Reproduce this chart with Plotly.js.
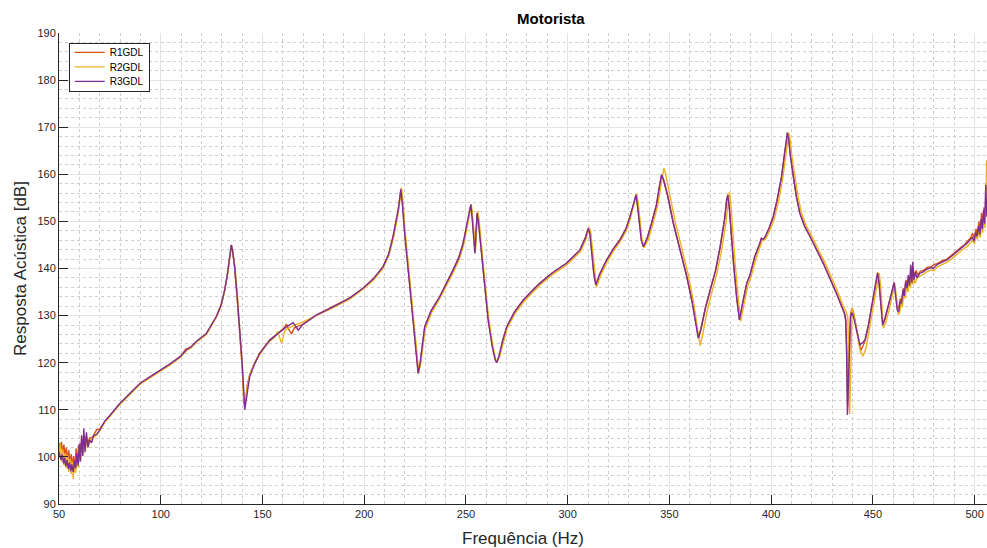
<!DOCTYPE html>
<html>
<head>
<meta charset="utf-8">
<script src="https://cdn.plot.ly/plotly-3.0.1.min.js"></script>
<style>html,body{margin:0;padding:0;background:#fff;}#chart{width:987px;height:548px;}</style>
</head>
<body>
<div id="chart"></div>
<script>
// Series names
const seriesNames = ['R1GDL', 'R2GDL', 'R3GDL'];

// [frequency (Hz), response (dB)]
const R1GDL = [
[50,103.0],[50.6,101.5],[51.2,103.2],[51.8,100.8],[52.4,102.6],[53,100.2],[53.6,102.0],[54.2,99.2],[54.8,101.4],[55.4,98.6],[56,100.6],[56.6,98.0],[57.2,100.2],[57.8,97.4],[58.4,101.8],[59,98.8],[59.6,102.4],[60.2,99.6],[60.8,103.0],[61.4,101.0],[62,104.2],[62.6,101.8],[63.3,104.5],[64,102.6],[65,104.0],[66.5,104.2],[68.5,105.8],[70,105.9],[72.5,107.5],[75,108.7],[80,111.3],[86.5,114.1],[90,115.6],[95,117.0],
[99.8,118.3],[104.8,119.7],[109.8,121.3],[112.3,122.9],[114.7,123.2],[117.7,124.5],[122.4,126.1],[127.3,129.7],[129.7,132.2],[131.4,135.3],[132.7,138.5],[133.5,141.0],[134.2,143.5],[134.7,144.9],[135.3,143.7],[136.3,140.3],[137.5,134.0],[138.8,126.8],[140.1,118.5],[140.9,111.2],[141.7,112.0],[142.5,115.2],[143.7,117.4],[146.2,120.0],[148.7,122.1],[153.6,124.8],[158.5,126.6],[160.2,127.2],[161.8,128.2],[163,127.0],[164.3,126.1],[165.7,127.4],[167.7,127.8],[169.6,128.1],
[176.4,130.1],[182.5,131.4],[187.9,132.6],[192.8,133.7],[199.4,135.8],[204.5,137.8],[209.3,140.4],[212,143.0],[214.2,146.8],[215.7,150.0],[216.7,152.4],[217.5,155.0],[218.1,156.9],[218.8,154.0],[220.1,146.8],[222.1,138.0],[224.2,129.1],[225.6,122.0],[226.6,117.8],[227.6,120.0],
[229.8,127.6],[232.9,131.0],[237.1,134.0],[243.7,139.7],[246.4,142.2],[248.6,145.3],[250.1,148.5],[251.1,151.0],[251.9,153.0],[252.5,153.5],[253.2,150.5],[253.9,146.2],[254.5,143.6],[255.1,148.5],[255.6,152.0],[256.2,150.2],[256.9,146.8],[259,137.5],[261,129.1],[263,123.5],[264.5,120.6],[265.2,120.1],[266.3,121.3],[268,124.5],[270.1,127.6],[273.9,130.8],[278.2,133.3],[282.4,135.2],[286.4,136.9],
[292.2,139.0],[299.4,141.1],[302.7,142.5],[306,143.9],[308.7,146.5],[310.2,148.6],[311,147.5],[311.8,143.9],[312.9,139.0],[313.9,136.6],[315.8,138.8],[319.2,141.8],[322.2,144.0],[325.7,146.1],[328.7,148.5],[330.7,151.0],[332.5,154.0],[333.7,155.7],[334.5,153.0],[335.3,149.6],[336.3,146.0],[337.3,144.6],
[339.2,146.5],[341.3,149.6],[343.7,153.5],[345.2,157.5],[346.2,159.9],[347.2,158.8],[349.2,155.5],[352,149.6],[355.2,144.0],[358.6,138.3],[361.2,133.0],[363.2,127.5],[364.3,125.3],[365.5,127.0],[367.7,131.5],[370.1,135.4],[372.7,139.5],[375,144.6],[377.2,150.5],[378.2,154.5],[378.8,155.7],[379.5,153.0],[380.4,147.5],[381.6,141.0],[383.2,133.5],[384.5,129.2],[386,132.5],[388.1,136.9],
[389.6,138.5],[392,142.5],[394.5,145.3],[395.3,146.4],[396.2,146.2],[397,146.6],[399,148.5],[401.1,151.0],[403,154.5],[405.2,159.5],[406.7,164.5],[407.6,168.0],[408.1,168.9],[408.7,167.5],[409.5,164.0],[411,159.5],[412.5,155.2],[414.2,151.7],[416.5,149.0],[419.2,146.8],[425.7,141.1],
[432.2,134.7],[434.9,131.8],[436.1,130.5],[436.7,129.2],[437.2,123.0],[437.6,110.5],[438,116.0],[438.5,126.5],[439.1,130.5],[439.9,131.6],[440.7,130.2],[442.1,127.0],[443.3,123.8],[444.1,122.6],[445.2,123.6],[446.4,125.0],[447.9,128.0],[449.5,131.9],[451.1,136.0],[452.4,139.1],[453.1,137.0],[453.6,134.7],[454.2,130.5],[454.9,128.0],[456.1,129.5],[457.7,131.9],[459.4,135.0],[460.5,137.0],[461.3,134.5],[462.1,131.5],[462.8,131.8],[463.5,133.6],[464.2,133.0],[464.9,135.8],[465.6,134.8],[466.3,137.6],[467,136.0],[467.6,138.0],[468.2,137.0],[468.8,139.4],[469.4,137.6],[470,139.6],
[470.5,138.2],[471.3,139.6],[472.1,138.6],[473.3,139.4],[474.9,139.6],[476.9,140.3],[478.9,140.4],[479.9,140.8],[481.9,141.1],[483.9,141.6],[486.4,142.0],[488.9,142.8],[491.4,143.8],[493,144.4],[494.9,145.0],[496.4,145.8],[497.9,146.4],[499.1,147.5],[499.9,146.2],[500.7,148.4],[501.4,147.0],[502.1,150.0],[502.8,147.8],[503.4,151.8],[504,149.0],[504.6,153.0],[505.1,150.0],[505.7,155.0],[506,152.0]
];

const R2GDL = [
[50,100.6],[50.6,102.8],[51.2,99.0],[51.8,101.6],[52.4,98.2],[53,100.8],[53.6,97.6],[54.2,100.4],[54.8,96.8],[55.4,99.6],[56,96.4],[56.6,99.0],[57,95.3],[57.6,98.4],[58.2,96.6],[58.8,100.2],[59.4,97.8],[60,101.6],[60.6,99.2],[61.2,103.2],[61.8,100.6],[62.4,104.4],[63,101.6],[63.7,104.0],[64.5,102.2],[65.5,103.6],[67,104.2],[68.5,104.6],[70,105.5],[72.5,107.4],[75,108.6],[80,111.2],[86.5,114.0],[90,115.5],[95,116.9],
[99.8,118.2],[104.8,119.6],[109.8,121.2],[112.7,122.6],[114.7,123.1],[117.7,124.4],[122.4,126.0],[127.3,129.6],[129.7,132.1],[131.4,135.2],[132.7,138.4],[133.5,140.9],[134.3,143.6],[134.8,144.9],[135.4,143.8],[136.4,140.6],[137.6,134.6],[138.9,127.6],[140,120.0],[140.9,111.6],[142,113.2],[143.3,116.6],[144.7,118.6],[147.2,120.8],[149.7,122.4],[152.7,124.2],[154.9,125.0],[156.2,125.6],[157.5,126.6],[159.4,124.1],[161,126.9],[162.7,127.3],[165.7,128.0],[169.6,128.6],
[176.4,129.9],[182.5,131.2],[187.9,132.4],[192.8,133.5],[199.4,135.6],[204.5,137.5],[209.3,140.1],[212.2,142.8],[214.4,146.5],[215.9,149.8],[216.9,152.2],[217.7,155.0],[218.3,157.2],[219,154.4],[220.3,147.0],[222.3,138.2],[224.4,129.3],[225.8,122.2],[226.8,118.0],[227.8,119.8],
[230,127.2],[233.2,130.7],[237.4,133.8],[244,139.4],[246.7,141.9],[248.9,145.0],[250.4,148.2],[251.4,150.8],[252.2,152.8],[252.7,153.5],[253.4,150.6],[254.1,146.4],[254.7,144.0],[255.3,148.4],[255.8,152.2],[256.4,150.6],[257.1,147.2],[259.2,137.8],[261.2,129.4],[263.2,123.6],[264.7,120.6],[265.4,120.2],[266.5,121.2],[268.2,124.2],[270.3,127.3],[274.2,130.5],[278.5,133.0],[282.7,134.9],[286.7,136.6],
[292.5,138.7],[299.7,140.8],[303,142.2],[306.3,143.6],[309,146.2],[310.5,148.7],[311.3,147.8],[312.1,144.2],[313.2,139.2],[314.2,136.0],[316.1,138.4],[319.4,141.4],[322.5,143.7],[326,145.8],[329,148.2],[331,150.8],[332.8,154.2],[334,155.9],[334.8,153.4],[335.6,149.6],[336.6,145.8],[337.6,144.4],
[339.5,146.0],[341.6,149.0],[344.1,153.0],[345.7,157.2],[346.7,160.2],[347.3,161.3],[348.1,160.2],[350,156.0],[352.7,150.2],[355.9,144.6],[359.3,138.6],[361.9,132.8],[363.9,127.0],[365.1,123.6],[366.3,125.8],[368.4,130.6],[370.8,134.8],[373.4,139.0],[375.7,144.0],[377.9,150.0],[378.9,154.2],[379.5,156.3],[380.2,153.6],[381.1,148.0],[382.3,141.2],[383.9,133.4],[385,128.8],[386.5,132.0],[388.6,136.4],
[390.1,138.2],[392.5,142.0],[394.9,145.0],[395.8,146.2],[396.7,146.0],[397.5,146.4],[399.5,148.2],[401.6,150.6],[403.5,154.0],[405.7,159.0],[407.2,164.0],[408.1,167.6],[408.7,168.8],[409.3,167.6],[410.1,164.2],[411.6,159.8],[413.1,155.6],[414.8,152.0],[417.1,149.2],[419.8,147.0],[426.3,141.4],
[432.8,135.0],[435.3,132.2],[436.8,131.0],[437.7,129.6],[438.1,122.0],[438.6,109.1],[439,116.0],[439.4,126.0],[439.8,131.5],[440.6,130.4],[442.2,126.2],[443.8,122.4],[445.2,121.4],[446.6,123.0],[448.4,127.4],[450,131.6],[451.6,135.6],[453.1,139.0],[453.8,136.6],[454.4,132.0],[455.1,127.3],[456.4,128.6],[458,131.2],[459.7,134.6],[460.8,136.8],[461.6,133.8],[462.4,130.2],[463.1,130.6],[463.8,132.6],[464.5,131.8],[465.2,134.8],[465.9,133.6],[466.6,136.4],[467.3,135.0],[467.9,137.4],[468.5,136.0],[469.1,138.6],[469.6,136.6],
[470.1,137.8],[470.8,136.8],[471.7,138.2],[473.3,138.4],[474.9,138.9],[476.9,139.4],[478.9,139.7],[479.9,139.5],[481.9,140.4],[483.9,140.8],[486.4,141.3],[488.9,142.1],[491.4,143.1],[493,143.6],[494.9,144.3],[496.4,144.7],[497.9,145.5],[499.1,146.0],[499.9,145.2],[500.7,147.0],[501.4,146.2],[502.1,148.2],[502.8,146.6],[503.4,149.6],[504,147.6],[504.6,151.0],[505.1,148.6],[505.6,153.0],[505.9,163.0],[506.1,160.0]
];

const R3GDL = [
[50,101.0],[50.5,100.2],[51,99.4],[51.6,100.5],[52.2,98.6],[52.8,99.8],[53.3,98.0],[54,99.3],[54.6,97.4],[55.2,98.8],[55.8,97.0],[56.3,98.4],[57,96.8],[57.6,99.2],[58.2,97.6],[58.8,100.6],[59.4,98.2],[60,102.8],[60.5,99.0],[61.1,104.6],[61.7,100.2],[62.2,106.0],[62.8,101.0],[63.5,105.2],[64.2,102.0],[65,103.6],[66,103.0],[67,104.5],[68.5,104.8],[70,105.7],[72.5,107.6],[75,108.8],[80,111.4],[86.5,114.2],[90,115.7],[95,117.1],
[99.8,118.4],[104.8,119.8],[109.8,121.4],[112.7,122.8],[114.7,123.3],[117.7,124.6],[122.4,126.2],[127.3,129.8],[129.7,132.3],[131.4,135.4],[132.7,138.6],[133.5,141.1],[134.2,143.6],[134.7,145.0],[135.3,143.8],[136.3,140.5],[137.5,134.5],[138.8,127.5],[140.1,119.5],[141.3,110.0],[142.3,112.8],[143.7,117.0],[146.2,119.8],[148.7,122.0],[153.6,124.8],[158.5,126.6],[161.7,127.6],[165.1,128.5],[166.2,127.8],[167.6,126.9],[169.6,128.0],
[176.4,130.1],[182.5,131.4],[187.9,132.6],[192.8,133.7],[199.4,135.8],[204.5,137.8],[209.3,140.4],[212,143.0],[214.2,146.8],[215.7,150.0],[216.7,152.4],[217.5,155.0],[218,156.8],[218.7,154.0],[220,146.8],[222,138.0],[224.1,129.1],[225.5,122.0],[226.5,117.7],[227.5,120.0],
[229.7,127.6],[232.9,131.0],[237.1,134.0],[243.7,139.7],[246.4,142.2],[248.6,145.3],[250.1,148.5],[251.1,151.0],[251.9,153.0],[252.4,153.6],[253.1,150.5],[253.8,146.0],[254.4,143.2],[255,148.0],[255.5,151.7],[256.1,150.0],[256.8,146.8],[258.9,137.5],[260.9,129.1],[262.9,123.5],[264.4,120.6],[265.1,120.0],[266.2,121.3],[267.9,124.5],[270,127.6],[273.9,130.8],[278.2,133.3],[282.4,135.2],[286.4,136.9],
[292.2,139.0],[299.4,141.1],[302.7,142.5],[306,143.9],[308.7,146.5],[310.1,148.5],[310.9,147.5],[311.7,143.9],[312.8,139.0],[313.8,136.5],[315.7,138.8],[319.1,141.8],[322.2,144.0],[325.7,146.1],[328.7,148.5],[330.6,151.0],[332.4,154.0],[333.6,155.6],[334.4,153.0],[335.2,149.6],[336.2,146.0],[337.2,144.6],
[339.1,146.5],[341.2,149.6],[343.6,153.5],[345.1,157.5],[346.1,159.9],[347.1,158.8],[349.1,155.5],[351.9,149.6],[355.1,144.0],[358.5,138.3],[361.1,133.0],[363.1,127.5],[364.2,125.2],[365.4,127.0],[367.6,131.5],[370,135.4],[372.6,139.5],[374.9,144.6],[377.1,150.5],[378.1,154.5],[378.7,155.6],[379.4,153.0],[380.3,147.5],[381.5,141.0],[383.1,133.5],[384.4,129.1],[385.9,132.5],[388,136.9],
[389.5,138.5],[391.9,142.5],[394.4,145.3],[395.2,146.4],[396.1,146.2],[396.9,146.6],[398.9,148.5],[401,151.0],[402.9,154.5],[405.1,159.5],[406.6,164.5],[407.5,168.0],[408,168.8],[408.6,167.5],[409.4,164.0],[410.9,159.5],[412.4,155.2],[414.1,151.7],[416.4,149.0],[419.1,146.8],[425.6,141.1],
[432.1,134.7],[434.8,131.8],[436,130.5],[436.6,129.1],[437.1,122.0],[437.5,108.9],[437.9,115.0],[438.4,126.0],[439,129.8],[439.8,130.6],[440.6,129.5],[442,126.9],[443.6,123.8],[444.8,124.2],[446.1,124.8],[447.8,128.0],[449.4,131.9],[451,136.0],[452.3,139.1],[453,137.0],[453.5,134.7],[454.1,130.5],[454.8,128.0],[456,129.5],[457.6,131.9],[459.3,135.0],[460.4,137.0],[461.2,134.5],[462,131.2],[462.7,130.8],[463.4,133.0],[464.1,132.6],[464.8,135.4],[465.4,134.2],[466.1,137.2],[466.8,135.8],[467.4,138.6],[468,136.4],[468.6,140.8],[469.2,137.0],
[469.6,141.4],[470.2,137.6],[470.9,139.2],[471.7,138.0],[473.1,139.0],[474.7,139.3],[476.7,139.9],[478.7,140.2],[479.7,140.0],[481.7,140.9],[483.7,141.3],[486.2,141.8],[488.7,142.6],[491.2,143.6],[492.8,144.1],[494.7,144.8],[496.2,145.3],[497.7,146.0],[498.9,146.6],[499.7,145.8],[500.5,147.6],[501.2,146.8],[501.9,149.0],[502.6,147.2],[503.2,150.5],[503.8,148.4],[504.4,152.4],[504.9,149.5],[505.5,157.8],[506,151.0]
];

const xTicks = [50, 100, 150, 200, 250, 300, 350, 400, 450, 500];
const yTicks = [90, 100, 110, 120, 130, 140, 150, 160, 170, 180, 190];

const seriesData = [R1GDL, R2GDL, R3GDL];
const colors = ['#D95319', '#EDB120', '#7E2F8E'];

const traces = seriesData.map(function (s, i) {
  return {
    type: 'scatter',
    mode: 'lines',
    name: seriesNames[i],
    x: s.map(function (p) { return p[0]; }),
    y: s.map(function (p) { return p[1]; }),
    line: { color: colors[i], width: 1.4 },
    hoverinfo: 'skip'
  };
});

const FONT = 'Liberation Sans, Arial, sans-serif';

const axisCommon = {
  showline: true,
  linecolor: '#262626',
  linewidth: 1,
  ticks: 'inside',
  ticklen: 9,
  tickwidth: 1,
  tickcolor: '#262626',
  showgrid: true,
  gridcolor: '#e3e3e3',
  gridwidth: 1,
  zeroline: false,
  tickfont: { family: FONT, size: 11, color: '#262626' },
  mirror: false
};

const layout = {
  width: 987,
  height: 548,
  margin: { l: 59, r: 0, t: 33, b: 44, pad: 0 },
  paper_bgcolor: '#ffffff',
  plot_bgcolor: '#ffffff',
  font: { family: FONT, color: '#262626' },
  title: {
    text: '<b>Motorista</b>',
    font: { family: FONT, size: 15, color: '#000000' },
    x: 0.53, xref: 'paper', xanchor: 'center',
    y: 0.965, yref: 'container', yanchor: 'middle'
  },
  xaxis: Object.assign({}, axisCommon, {
    range: [50, 506.1],
    tickmode: 'array',
    tickvals: xTicks,
    ticktext: xTicks.map(String),
    minor: { dtick: 10, tick0: 50, showgrid: true, gridcolor: '#cfcfcf', griddash: 'dot', gridwidth: 1, ticks: '' },
    title: { text: 'Frequência (Hz)', font: { family: FONT, size: 17, color: '#262626' }, standoff: 12 }
  }),
  yaxis: Object.assign({}, axisCommon, {
    range: [90, 190],
    tickmode: 'array',
    tickvals: yTicks,
    ticktext: yTicks.map(String),
    minor: { dtick: 2, tick0: 90, showgrid: true, gridcolor: '#cfcfcf', griddash: 'dot', gridwidth: 1, ticks: '' },
    title: { text: 'Resposta Acústica [dB]', font: { family: FONT, size: 17, color: '#262626' }, standoff: 6 }
  }),
  showlegend: true,
  legend: {
    x: 0.0105, y: 0.979, xanchor: 'left', yanchor: 'top',
    bgcolor: '#ffffff',
    bordercolor: '#262626',
    borderwidth: 1,
    font: { family: FONT, size: 10, color: '#000000' },
    tracegroupgap: 0,
    itemwidth: 30
  }
};

Plotly.newPlot('chart', traces, layout, { displayModeBar: false, staticPlot: true }).then(function (gd) {
  // tighten legend row spacing to match the compact reference legend
  var leg = gd.querySelector('g.legend');
  if (!leg) return;
  var items = leg.querySelectorAll('g.traces');
  var rowGap = 14.5, firstRow = 9.5;
  items.forEach(function (it, i) {
    var tr = it.getAttribute('transform') || '';
    var m = tr.match(/translate\(\s*([-\d.]+)[ ,]+([-\d.]+)\s*\)/);
    var tx = m ? parseFloat(m[1]) : 0;
    it.setAttribute('transform', 'translate(' + tx + ',' + (firstRow + i * rowGap) + ')');
  });
  var newH = firstRow * 2 + rowGap * (items.length - 1);
  leg.querySelectorAll('rect.bg').forEach(function (r) { r.setAttribute('height', newH); });
  leg.querySelectorAll('clipPath rect').forEach(function (r) { r.setAttribute('height', newH); });
  var defs = gd.querySelectorAll('defs clipPath[id*="legend"] rect');
  defs.forEach(function (r) { r.setAttribute('height', newH); });
});
</script>
</body>
</html>
